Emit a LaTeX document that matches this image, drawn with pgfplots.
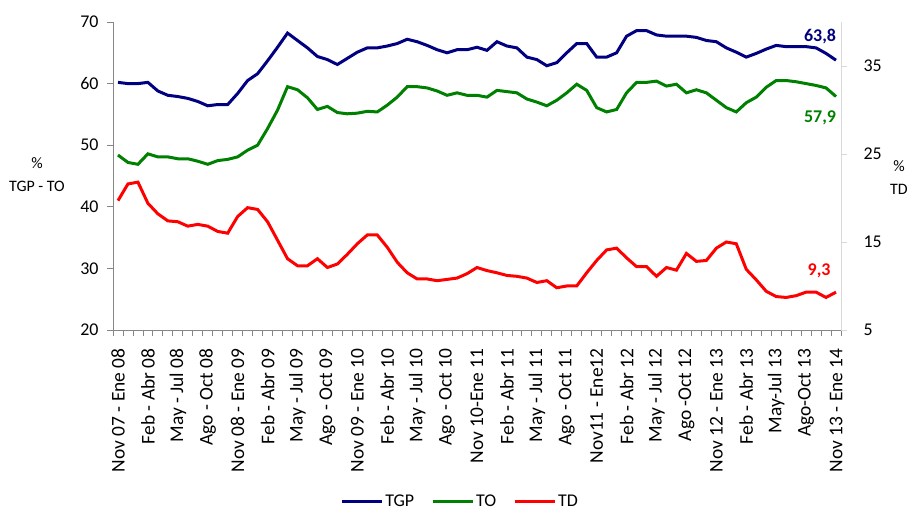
\documentclass[border=0pt]{standalone}
\usepackage{pgfplots}
\pgfplotsset{compat=1.18}
\usepackage{pgfplotstable}
\usepackage{fontspec}
\setmainfont{Carlito}
\definecolor{cTGP}{RGB}{0,0,128}
\definecolor{cTO}{RGB}{0,128,0}
\definecolor{cTD}{RGB}{255,0,0}
\definecolor{axgray}{RGB}{134,134,134}
\definecolor{axlight}{RGB}{217,217,217}

\pgfplotstableread{
i TGP TO TD
0 60.2 48.4 19.7
1 60.0 47.2 21.6
2 60.0 46.9 21.8
3 60.2 48.6 19.4
4 58.8 48.1 18.2
5 58.1 48.1 17.4
6 57.9 47.8 17.3
7 57.6 47.8 16.8
8 57.1 47.4 17.0
9 56.4 46.9 16.8
10 56.6 47.5 16.2
11 56.6 47.7 16.0
12 58.4 48.1 17.9
13 60.5 49.2 18.9
14 61.6 50.0 18.7
15 63.7 52.7 17.3
16 65.9 55.7 15.2
17 68.2 59.5 13.1
18 67.0 59.0 12.3
19 65.8 57.7 12.3
20 64.4 55.8 13.1
21 63.9 56.3 12.1
22 63.1 55.3 12.5
23 64.1 55.1 13.6
24 65.1 55.2 14.8
25 65.8 55.5 15.8
26 65.8 55.4 15.8
27 66.1 56.5 14.4
28 66.5 57.8 12.7
29 67.2 59.5 11.5
30 66.8 59.5 10.8
31 66.2 59.3 10.8
32 65.5 58.8 10.6
33 65.0 58.1 10.75
34 65.5 58.5 10.9
35 65.5 58.1 11.4
36 65.9 58.1 12.1
37 65.4 57.8 11.75
38 66.8 58.9 11.5
39 66.1 58.7 11.2
40 65.8 58.5 11.1
41 64.3 57.5 10.9
42 63.9 57.0 10.4
43 62.9 56.4 10.6
44 63.4 57.3 9.8
45 65.0 58.5 10.0
46 66.5 59.9 10.0
47 66.5 58.9 11.5
48 64.3 56.1 12.9
49 64.3 55.4 14.1
50 65.0 55.8 14.3
51 67.7 58.5 13.2
52 68.6 60.2 12.2
53 68.6 60.2 12.2
54 67.9 60.4 11.1
55 67.7 59.6 12.1
56 67.7 59.9 11.8
57 67.7 58.5 13.7
58 67.5 59.0 12.8
59 67.0 58.5 12.9
60 66.8 57.3 14.3
61 65.8 56.1 15.0
62 65.1 55.4 14.8
63 64.3 56.9 11.9
64 64.9 57.8 10.7
65 65.6 59.4 9.4
66 66.2 60.5 8.8
67 66.0 60.5 8.7
68 66.0 60.3 8.9
69 66.0 60.0 9.3
70 65.8 59.7 9.3
71 64.9 59.3 8.7
72 63.8 57.9 9.3
}\datatable

\pgfplotsset{
  common/.style={
    scale only axis, width=728bp, height=308bp,
    at={(113bp,182bp)}, anchor=south west,
    xmin=-0.5, xmax=72.5,
    tick align=outside,
    major tick length=6bp,
    every tick/.style={draw=axgray, line width=0.8bp},
    axis line style={draw=axgray, line width=0.8bp},
    /pgf/number format/assume math mode=true,
    ticklabel style={font=\fontsize{18}{21}\selectfont},
    clip=false,
  },
}

\begin{document}
\begin{tikzpicture}
\begin{axis}[common,
  axis x line*=bottom, axis y line*=left,
  ymin=20, ymax=70, ytick={20,30,...,70},
  yticklabel style={xshift=-5bp},
  xtick={-0.5,0.5,...,72.5}, xticklabels={},
  extra x ticks={0,3,...,72},
  extra x tick style={major tick length=0pt, tick style={draw=none},
    xticklabel style={rotate=90, anchor=east, xshift=-15bp,
      font=\fontsize{19.5}{22}\selectfont}},
  extra x tick labels={Nov 07 - Ene 08,Feb - Abr 08,May - Jul 08,Ago - Oct 08,Nov 08 - Ene 09,Feb - Abr 09,May - Jul 09,Ago - Oct 09,Nov 09 - Ene 10,Feb - Abr 10,May - Jul 10,Ago - Oct 10,Nov 10-Ene 11,Feb - Abr 11,May - Jul 11,Ago - Oct 11,Nov11 - Ene12,Feb - Abr 12,May - Jul 12,Ago -Oct 12,Nov 12 - Ene 13,Feb - Abr 13,May-Jul 13,Ago-Oct 13,Nov 13 - Ene 14},
  legend columns=3,
  legend style={draw=none, fill=none, at={(axis description cs:0.312,-0.558)}, anchor=west,
    inner sep=0pt, font=\fontsize{18}{21}\selectfont,
    /tikz/every even column/.append style={column sep=15bp}},
  legend image code/.code={\draw[#1] (0bp,0bp) -- (40bp,0bp);},
  legend cell align=left,
]
\addlegendimage{cTGP, line width=3bp}
\addlegendentry{TGP}
\addlegendimage{cTO, line width=3bp}
\addlegendentry{TO}
\addlegendimage{cTD, line width=3bp}
\addlegendentry{TD}
\addplot[cTGP, line width=3bp, no marks, forget plot] table[x=i, y=TGP] {\datatable};
\addplot[cTO, line width=3bp, no marks, forget plot] table[x=i, y=TO] {\datatable};
\node[cTGP, font=\fontsize{18}{20}\selectfont\bfseries] at (axis cs:70.4,67.7) {63,8};
\node[cTO, font=\fontsize{18}{20}\selectfont\bfseries] at (axis cs:70.4,54.4) {57,9};
\end{axis}
\begin{axis}[common,
  axis y line*=right, axis x line=none,
  axis line style={draw=axlight, line width=0.8bp},
  every tick/.style={draw=axlight, line width=0.8bp},
  ymin=5, ymax=40, ytick={5,15,25,35},
  yticklabel={\hspace*{13bp}\pgfmathprintnumber{\tick}},
]
\addplot[cTD, line width=3bp, no marks] table[x=i, y=TD] {\datatable};
\node[cTD, font=\fontsize{18}{20}\selectfont\bfseries] at (axis cs:70.3,11.7) {9,3};
\end{axis}
\node[align=center, font=\fontsize{16}{23}\selectfont] at (37bp,337bp) {\%\\TGP - TO};
\node[align=center, font=\fontsize{16}{23}\selectfont] at (899bp,334bp) {\%\\TD};
\pgfresetboundingbox
\useasboundingbox (0,0) rectangle (912bp,512bp);
\end{tikzpicture}
\end{document}
